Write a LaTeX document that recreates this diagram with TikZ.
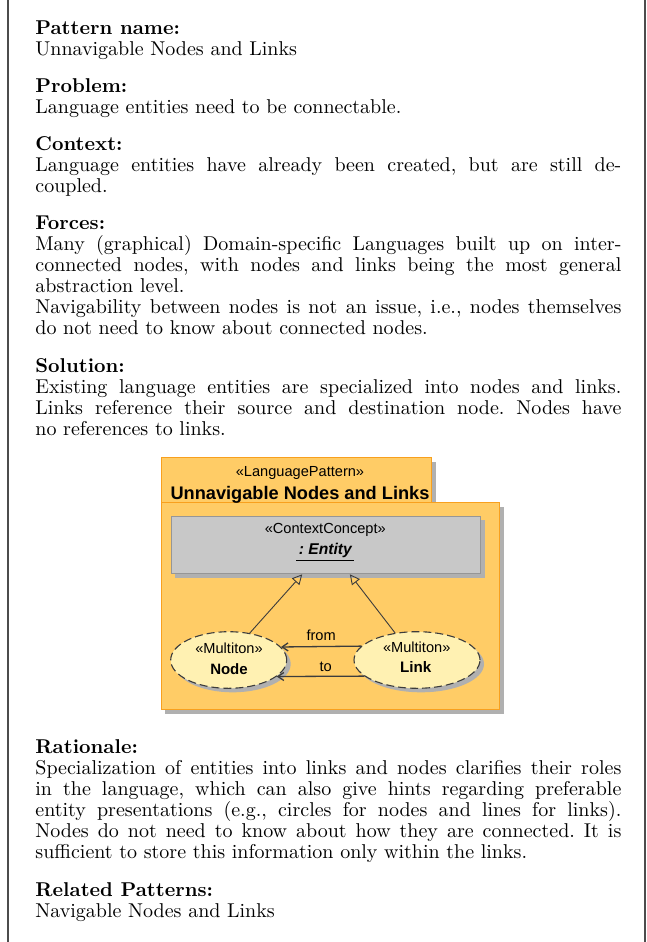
\documentclass[tikz,border=0pt]{standalone}
\usepackage{fontspec}
\newfontfamily\diagfont{Liberation Sans}
\usetikzlibrary{arrows.meta,calc,shapes.geometric}
\definecolor{pkgfill}{RGB}{255,204,102}
\definecolor{pkgdraw}{RGB}{248,160,30}
\definecolor{shadowc}{RGB}{176,176,176}
\definecolor{boxfill}{RGB}{200,200,200}
\definecolor{boxdraw}{RGB}{150,150,150}
\definecolor{ellfill}{RGB}{255,241,178}
\definecolor{linec}{RGB}{60,60,60}
\newcommand\jl[1]{\makebox[293pt][s]{#1}}
\frenchspacing
\begin{document}
\begin{tikzpicture}[x=0.5pt,y=-0.5pt,
  frame/.style={draw=black!70,line width=0.55pt},
  txt/.style={anchor=base west,inner sep=0pt,font=\fontsize{10}{12}\selectfont},
  dtxt/.style={anchor=base,inner sep=0pt,font=\diagfont\fontsize{7.3}{9}\selectfont},
  shad/.style={preaction={fill=shadowc,transform canvas={xshift=2pt,yshift=-2pt}}},
  pkgbox/.style={rectangle,draw=pkgdraw,fill=pkgfill,line width=0.5pt,inner sep=0pt,anchor=north west,shad},
  ccbox/.style={rectangle,draw=boxdraw,fill=boxfill,line width=0.5pt,inner sep=0pt,anchor=north west,shad},
  ell/.style={ellipse,draw=linec,fill=ellfill,dashed,dash pattern=on 4pt off 2pt,line width=0.55pt,inner sep=0pt,minimum height=28.3pt,shad},
  gen/.style={draw=linec,line width=0.45pt,-{Triangle[open,length=5pt,width=5pt]}},
  assoc/.style={draw=linec,line width=0.65pt,-{Straight Barb[length=3pt,width=4pt]}}]
\useasboundingbox (0,0) rectangle (647,942);
\draw[frame] (8,0) -- (8,942);
\draw[frame] (645,0) -- (645,942);

% text
\node[txt] (h1) at (35,34) {\textbf{Pattern name:}};
\node[txt] (b1) at (35,55) {Unnavigable Nodes and Links};
\node[txt] (h2) at (35,92.3) {\textbf{Problem:}};
\node[txt] (b2) at (35,113.3) {Language entities need to be connectable.};
\node[txt] (h3) at (35,150.6) {\textbf{Context:}};
\node[txt] (b3a) at (35,171.6) {\jl{Language entities have already been created, but are still de-}};
\node[txt] (b3b) at (35,192.6) {coupled.};
\node[txt] (h4) at (35,229.9) {\textbf{Forces:}};
\node[txt] (b4a) at (35,250.9) {\jl{Many (graphical) Domain-specific Languages built up on inter-}};
\node[txt] (b4b) at (35,271.9) {\jl{connected nodes, with nodes and links being the most general}};
\node[txt] (b4c) at (35,292.9) {abstraction level.};
\node[txt] (b4d) at (35,313.9) {\jl{Navigability between nodes is not an issue, i.e., nodes themselves}};
\node[txt] (b4e) at (35,334.9) {do not need to know about connected nodes.};
\node[txt] (h5) at (35,372.2) {\textbf{Solution:}};
\node[txt] (b5a) at (35,393.2) {\jl{Existing language entities are specialized into nodes and links.}};
\node[txt] (b5b) at (35,414.2) {\jl{Links reference their source and destination node. Nodes have}};
\node[txt] (b5c) at (35,435.2) {no references to links.};
\node[txt] (h6) at (35,753.7) {\textbf{Rationale:}};
\node[txt] (b6a) at (35,774.7) {\jl{Specialization of entities into links and nodes clarifies their roles}};
\node[txt] (b6b) at (35,795.7) {\jl{in the language, which can also give hints regarding preferable}};
\node[txt] (b6c) at (35,816.7) {\jl{entity presentations (e.g., circles for nodes and lines for links).}};
\node[txt] (b6d) at (35,837.7) {\jl{Nodes do not need to know about how they are connected. It is}};
\node[txt] (b6e) at (35,858.7) {sufficient to store this information only within the links.};
\node[txt] (h7) at (35,896) {\textbf{Related Patterns:}};
\node[txt] (b7) at (35,917) {Navigable Nodes and Links};

% diagram
\node[pkgbox,minimum width=135.2pt,minimum height=22.5pt] (tab) at (160.7,457.3) {};
\node[pkgbox,minimum width=169.3pt,minimum height=103.4pt] (pkg) at (160.7,502.3) {};
\node[dtxt] (lp) at (300,476.5) {«LanguagePattern»};
\node[dtxt,font=\diagfont\bfseries\fontsize{9.1}{11}\selectfont] (title) at (300,499) {Unnavigable Nodes and Links};
\node[ccbox,minimum width=154.65pt,minimum height=28.8pt] (Entity) at (170.7,515.7) {};
\node[dtxt] (cc) at (325.3,533.3) {«ContextConcept»};
\node[dtxt,font=\diagfont\bfseries\itshape\fontsize{7.8}{9}\selectfont] (en) at (325.3,554) {\underline{\,: Entity\,}};
\node[ell,minimum width=58pt] (Node) at (228.7,660) {};
\node[ell,minimum width=63pt] (Link) at (417,660) {};
\node[dtxt] (nm) at (229,653.3) {«Multiton»};
\node[dtxt,font=\diagfont\bfseries\fontsize{7.5}{9}\selectfont] (nn) at (229,674) {Node};
\node[dtxt] (lm) at (416.7,652.3) {«Multiton»};
\node[dtxt,font=\diagfont\bfseries\fontsize{7.6}{9}\selectfont] (ln) at (415.7,672.3) {Link};
\draw[gen] (Node.52) -- ($(Entity.south)+(-23.6,0)$);
\draw[gen] (Link.129.7) -- ($(Entity.south)+(24,0)$);
\draw[assoc] (Link.166.5) -- node[dtxt,anchor=base,yshift=3pt] (lfrom) {from} (Node.14.6);
\draw[assoc] (Link.197.1) -- node[dtxt,anchor=base,yshift=2.5pt,xshift=2.6pt] (lto) {to} (Node.341.5);
\end{tikzpicture}
\end{document}
